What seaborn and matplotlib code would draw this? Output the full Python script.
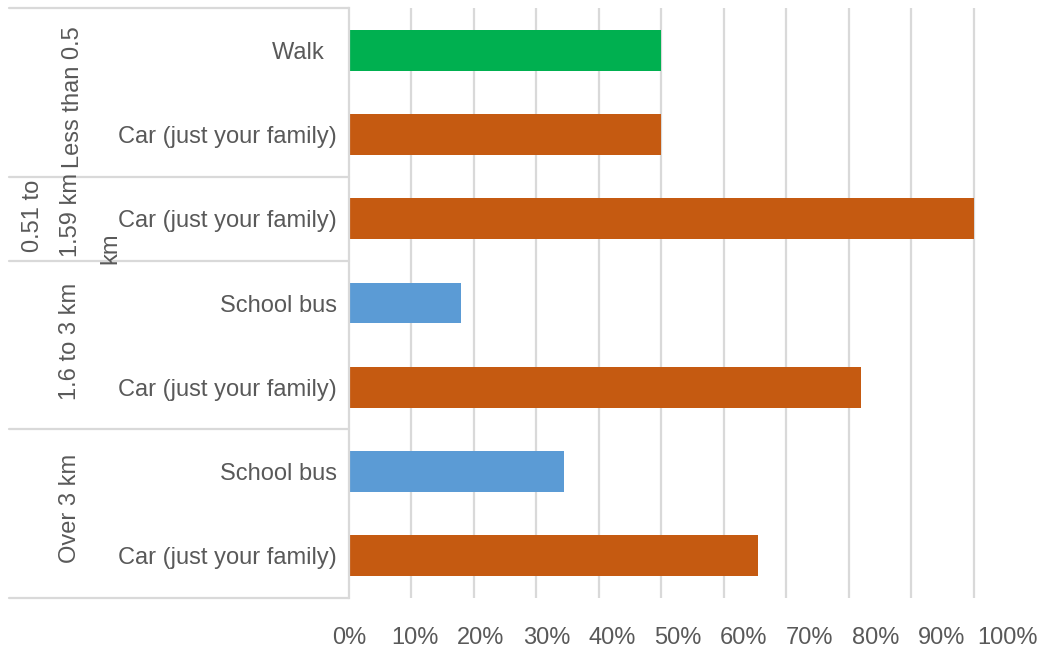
import matplotlib
matplotlib.use("Agg")
import matplotlib.pyplot as plt
import matplotlib.transforms as mtransforms
from matplotlib.lines import Line2D
from matplotlib.ticker import FixedLocator
import seaborn as sns
import pandas as pd

# ---- data ----
groups = ["Less than 0.5 km", "0.51 to 1.59 km", "1.6 to 3 km", "Over 3 km"]
group_sizes = [2, 1, 2, 2]
modes = ["Walk  ", "Car (just your family)", "Car (just your family)",
         "School bus", "Car (just your family)",
         "School bus", "Car (just your family)"]
values = [50, 50, 100, 18, 82, 34.5, 65.5]
tick_labels = ["0%", "10%", "20%", "30%", "40%", "50%", "60%", "70%", "80%", "90%", "100%"]
mode_colors = {"Walk  ": "#00B050", "Car (just your family)": "#C55A11", "School bus": "#5B9BD5"}

sns.set_theme(style="white")
plt.rcParams["font.family"] = ["Liberation Sans", "DejaVu Sans"]
TXT = "#595959"
GRID = "#D9D9D9"
FS = 17

group_of_row = sum([[g] * n for g, n in zip(groups, group_sizes)], [])
df = pd.DataFrame({
    "row": [f"{g}|{m}|{i}" for i, (g, m) in enumerate(zip(group_of_row, modes))],
    "mode": modes,
    "value": values,
})

W, H = 1041, 656
fig = plt.figure(figsize=(W / 100, H / 100), dpi=100)
L, T, R, B = 349, 8, 1036, 598
ax = fig.add_axes([L / W, 1 - B / H, (R - L) / W, (B - T) / H])

sns.barplot(data=df, x="value", y="row", hue="mode", palette=mode_colors,
            dodge=False, width=0.486, legend=False, ax=ax, saturation=1,
            linewidth=0, errorbar=None)

n = len(modes)
ax.set_ylim(n - 0.5, -0.5)
ax.set_xlim(0, 110)
ax.set_xlabel("")
ax.set_ylabel("")

ax.set_yticks(range(n))
ax.set_yticklabels(modes)
ax.tick_params(axis="y", length=0, pad=8.5, labelsize=FS, labelcolor=TXT)

ax.xaxis.set_major_locator(FixedLocator([k * 10.54 for k in range(len(tick_labels))]))
ax.set_xticklabels(tick_labels)
ax.xaxis.set_minor_locator(FixedLocator([k * 10 for k in range(1, 11)]))
ax.tick_params(axis="x", which="both", length=0, pad=21, labelsize=FS, labelcolor=TXT)
ax.grid(False)
ax.grid(True, which="minor", axis="x", color=GRID, lw=1.6)
ax.set_axisbelow(True)

for s in ["top", "right", "bottom"]:
    ax.spines[s].set_visible(False)
ax.spines["left"].set_color(GRID)
ax.spines["left"].set_linewidth(1.6)

# category table lines
trans = mtransforms.blended_transform_factory(ax.transAxes, ax.transData)
bounds = [-0.5]
for sz in group_sizes:
    bounds.append(bounds[-1] + sz)
x0 = (9 - L) / (R - L)
for b in bounds:
    ax.add_line(Line2D([x0, 0], [b, b], transform=trans, color=GRID, lw=1.6, clip_on=False))

# group labels (as drawn in the reference)
def ax_xy(px, py):
    return (px - L) / (R - L), 1 - (py - T) / (B - T)

group_texts = [
    ("Less than 0.5", 73, 97),
    ("0.51 to", 33, 216),
    ("1.59 km", 71, 215),
    ("km", 110, 248),
    ("1.6 to 3 km", 70, 341),
    ("Over 3 km", 70, 508),
]
for s, px, py in group_texts:
    xa, ya = ax_xy(px, py)
    ax.text(xa, ya, s, transform=ax.transAxes, rotation=90, ha="center", va="center",
            fontsize=FS, color=TXT)

fig.savefig("out.png", dpi=100)
